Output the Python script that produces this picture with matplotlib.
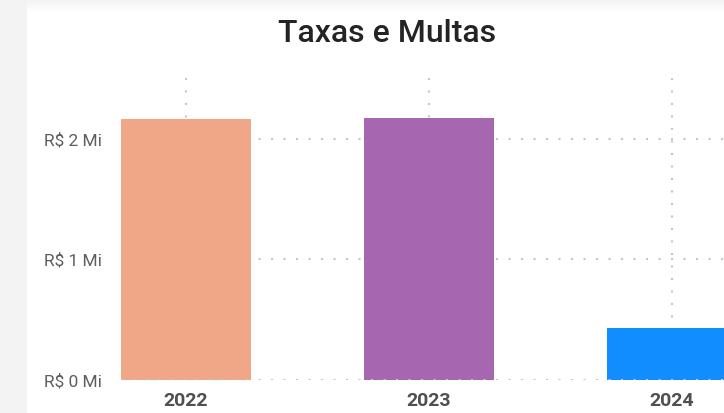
import matplotlib
matplotlib.use("Agg")
import matplotlib.pyplot as plt
from matplotlib.patches import Rectangle

years = ["2022", "2023", "2024"]
valores = [2.165, 2.175, 0.43]  # R$ milhões
cores = ["#F0A788", "#A666B0", "#118DFF"]
yticks = [0, 1, 2]
ytick_labels = ["R$ 0 Mi", "R$ 1 Mi", "R$ 2 Mi"]

W, H = 724, 413
fig = plt.figure(figsize=(W / 100, H / 100), dpi=100)
fig.patch.set_facecolor("white")

# faixa cinza à esquerda e sombra no topo (moldura do painel)
fig.patches.append(Rectangle((0, 0), 27 / W, 1, transform=fig.transFigure,
                             facecolor="#f3f3f3", edgecolor="none", zorder=0))
for i in range(12):
    g = 0.955 + 0.045 * i / 12
    fig.patches.append(Rectangle((27 / W, 1 - (i + 1) / H), 1, 1 / H,
                                 transform=fig.transFigure,
                                 facecolor=(g, g, g), edgecolor="none", zorder=0))

ax = fig.add_axes([121 / W, (H - 380) / H, (W - 121) / W, (380 - 78) / H])
ax.set_facecolor("none")

x = list(range(len(years)))
ax.bar(x, valores, width=0.535, color=cores, zorder=2)

ax.set_xlim(-0.2675, 2.214)
ax.set_ylim(0, 2.506)

grid_kw = dict(color="#c6c6c6", linewidth=1.5, linestyle=(0, (1, 5)))
for xi in x:
    ax.axvline(xi, zorder=1, **grid_kw)
for yv in yticks:
    ax.axhline(yv, zorder=3 if yv == 0 else 1, **grid_kw)

for s in ax.spines.values():
    s.set_visible(False)

ax.set_xticks(x)
ax.set_xticklabels(years, fontsize=14, fontweight="bold", color="#505050",
                   family="Roboto")
ax.set_yticks(yticks)
ax.set_yticklabels(ytick_labels, fontsize=12.5, color="#605E5C", family="Roboto")
ax.tick_params(length=0)
ax.tick_params(axis="x", pad=9)
ax.tick_params(axis="y", pad=14)

fig.text(387 / W, 1 - 33 / H, "Taxas e Multas", ha="center", va="center",
         fontsize=23, fontweight="medium", color="#252423", family="Roboto")

fig.savefig("out.png", dpi=100)
